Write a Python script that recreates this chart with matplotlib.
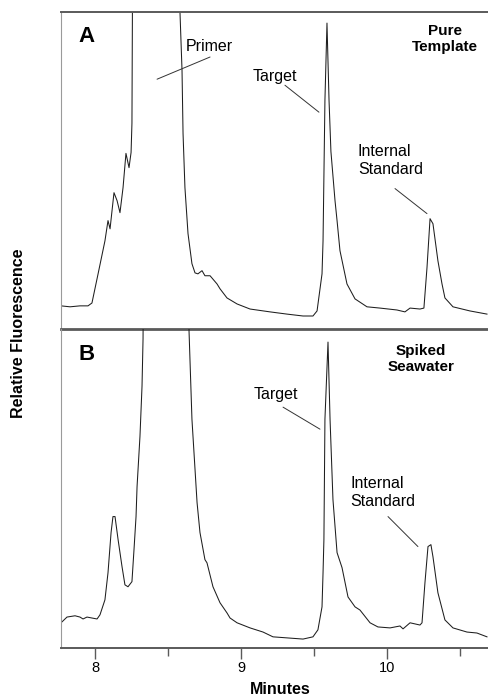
import matplotlib
matplotlib.use("Agg")
import matplotlib.pyplot as plt
from matplotlib.ticker import FixedLocator

plt.rcParams['font.family'] = ['Liberation Sans', 'DejaVu Sans']

# ---- data (minutes, relative fluorescence; 100 = panel top) ----
time_a = [7.767, 7.829, 7.897, 7.952, 7.979, 8.021, 8.068, 8.089, 8.103, 8.130,
          8.151, 8.171, 8.192, 8.212, 8.233, 8.247, 8.253, 8.258, 8.42, 8.582,
          8.596, 8.603, 8.616, 8.637, 8.664, 8.685, 8.705, 8.733, 8.753, 8.788,
          8.801, 8.836, 8.856, 8.904, 8.973, 9.062, 9.199, 9.315, 9.425, 9.493,
          9.521, 9.555, 9.562, 9.575, 9.589, 9.603, 9.616, 9.644, 9.658, 9.678,
          9.726, 9.781, 9.863, 9.952, 10.068, 10.123, 10.158, 10.226, 10.253, 10.274,
          10.295, 10.315, 10.349, 10.377, 10.397, 10.452, 10.568, 10.685]
signal_a = [7.3, 7.0, 7.3, 7.3, 8.2, 17.4, 27.8, 34.2, 31.6, 43.0,
            40.5, 36.7, 44.6, 55.4, 50.9, 55.7, 64.9, 120, 400, 100,
            81.6, 61.7, 44.6, 30.1, 20.6, 17.7, 17.4, 18.4, 16.8, 16.8,
            16.1, 14.2, 12.7, 9.8, 7.9, 6.3, 5.4, 4.7, 4.1, 4.1,
            5.7, 17.4, 27.8, 72.2, 96.5, 72.2, 56.0, 40.5, 34.2, 24.7,
            14.2, 9.5, 7.0, 6.6, 6.0, 5.4, 6.6, 6.3, 6.6, 19.3,
            34.8, 33.2, 21.5, 14.2, 9.8, 7.0, 5.7, 4.7]

time_b = [7.774, 7.808, 7.863, 7.897, 7.918, 7.945, 7.979, 8.014, 8.034, 8.068,
          8.089, 8.110, 8.123, 8.137, 8.158, 8.185, 8.205, 8.226, 8.253, 8.267,
          8.281, 8.288, 8.308, 8.322, 8.329, 8.332, 8.48, 8.642, 8.644, 8.664,
          8.699, 8.719, 8.753, 8.767, 8.808, 8.856, 8.904, 8.925, 8.973, 9.062,
          9.151, 9.219, 9.336, 9.425, 9.493, 9.527, 9.555, 9.562, 9.568, 9.575,
          9.596, 9.610, 9.630, 9.658, 9.692, 9.733, 9.781, 9.815, 9.884, 9.938,
          10.021, 10.089, 10.110, 10.158, 10.226, 10.240, 10.260, 10.281, 10.301, 10.315,
          10.349, 10.397, 10.452, 10.548, 10.616, 10.685]
signal_b = [8.2, 9.7, 10.1, 9.7, 9.1, 9.7, 9.4, 9.1, 10.4, 15.1,
            23.6, 36.2, 41.2, 41.2, 34.0, 25.5, 19.8, 19.2, 20.8, 30.8,
            41.2, 50.6, 66.4, 82.1, 96.9, 120, 400, 110, 99.4, 71.7,
            45.6, 36.2, 27.7, 26.7, 19.2, 14.2, 11.0, 9.4, 7.9, 6.3,
            5.0, 3.5, 3.1, 2.8, 3.5, 5.7, 12.9, 23.6, 34.0, 71.7,
            95.9, 71.7, 46.5, 29.9, 25.2, 16.0, 12.9, 11.9, 7.9, 6.6,
            6.3, 6.9, 6.0, 7.9, 7.2, 7.9, 20.4, 31.8, 32.4, 28.6,
            17.3, 8.8, 6.3, 5.0, 4.7, 3.5]

major_ticks = [8, 9, 10]
minor_ticks = [8.5, 9.5, 10.5]
tick_labels = ['8', '9', '10']
xlim = (7.767, 10.692)

W, H = 488, 695
fig = plt.figure(figsize=(W / 100, H / 100), dpi=100)

def fx(px):
    return px / W

def fy(py):
    return 1 - py / H

ax_a = fig.add_axes([fx(61), fy(329), 1 - fx(61), fy(12) - fy(329)])
ax_b = fig.add_axes([fx(61), fy(648), 1 - fx(61), fy(329) - fy(648)])

line_col = '#1e1e1e'
spine_col = '#5a5a5a'

for ax, t, s in ((ax_a, time_a, signal_a), (ax_b, time_b, signal_b)):
    ax.plot(t, s, color=line_col, lw=0.75)
    ax.set_xlim(*xlim)
    ax.set_ylim(0, 100)
    ax.set_yticks([])
    ax.spines['right'].set_visible(False)
    ax.spines['left'].set_color('#9a9a9a')
    ax.spines['left'].set_linewidth(0.8)
    ax.patch.set_alpha(0)

# panel A frame
ax_a.spines['top'].set_color(spine_col)
ax_a.spines['top'].set_linewidth(1.4)
ax_a.spines['bottom'].set_color(spine_col)
ax_a.spines['bottom'].set_linewidth(2.0)
ax_a.set_xticks([])

# panel B frame
ax_b.spines['top'].set_visible(False)
ax_b.spines['bottom'].set_color(spine_col)
ax_b.spines['bottom'].set_linewidth(1.4)
ax_b.xaxis.set_major_locator(FixedLocator(major_ticks))
ax_b.xaxis.set_minor_locator(FixedLocator(minor_ticks))
ax_b.set_xticklabels(tick_labels)
ax_b.tick_params(axis='x', which='major', direction='out', length=8, width=1.0,
                 color=spine_col, labelsize=10.5, pad=1.5)
ax_b.tick_params(axis='x', which='minor', direction='out', length=6, width=1.0,
                 color=spine_col)

txt_size = 11.5
lead_kw = dict(arrowprops=dict(arrowstyle='-', color='#333333', lw=0.7, shrinkA=0, shrinkB=0))

# panel A annotations
ax_a.text(7.884, 92.4, 'A', fontsize=16, fontweight='bold', ha='left', va='center')
ax_a.text(10.397, 91.5, 'Pure\nTemplate', fontsize=11, fontweight='bold',
          ha='center', va='center', linespacing=1.25)
ax_a.text(8.781, 89.2, 'Primer', fontsize=txt_size, ha='center', va='center')
ax_a.annotate('', xy=(8.425, 78.8), xytext=(8.788, 85.8), **lead_kw)
ax_a.text(9.233, 79.6, 'Target', fontsize=txt_size, ha='center', va='center')
ax_a.annotate('', xy=(9.534, 68.4), xytext=(9.301, 76.9), **lead_kw)
ax_a.text(9.801, 53.2, 'Internal\nStandard', fontsize=txt_size, ha='left', va='center',
          linespacing=1.25)
ax_a.annotate('', xy=(10.274, 36.4), xytext=(10.055, 44.3), **lead_kw)

# panel B annotations
ax_b.text(7.884, 92.1, 'B', fontsize=16, fontweight='bold', ha='left', va='center')
ax_b.text(10.233, 90.6, 'Spiked\nSeawater', fontsize=11, fontweight='bold',
          ha='center', va='center', linespacing=1.25)
ax_b.text(9.240, 79.6, 'Target', fontsize=txt_size, ha='center', va='center')
ax_b.annotate('', xy=(9.541, 68.6), xytext=(9.288, 75.5), **lead_kw)
ax_b.text(9.747, 48.7, 'Internal\nStandard', fontsize=txt_size, ha='left', va='center',
          linespacing=1.25)
ax_b.annotate('', xy=(10.212, 31.8), xytext=(10.007, 41.2), **lead_kw)

fig.text(fx(19), fy(333), 'Relative Fluorescence', rotation=90, fontsize=11.5,
         fontweight='bold', ha='center', va='center')
fig.text(fx(280), fy(689), 'Minutes', fontsize=11.5, fontweight='bold',
         ha='center', va='center')

fig.savefig('out.png', dpi=100)
